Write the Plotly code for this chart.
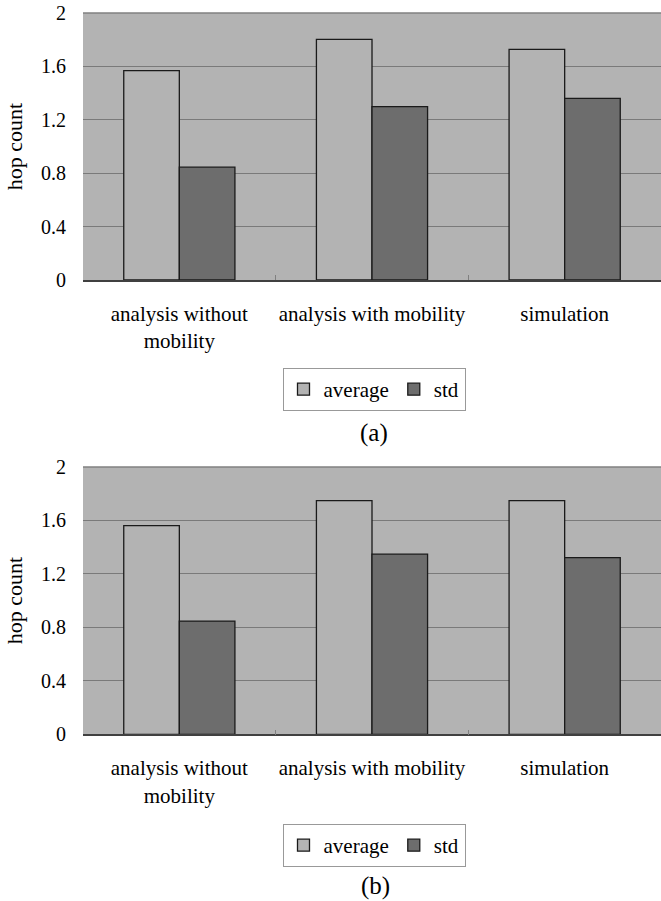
import plotly.graph_objects as go

# Hop-count statistics for the two scenarios (a) and (b)
categories = ["analysis without<br>mobility", "analysis with mobility", "simulation"]
avg_a = [1.568, 1.803, 1.728]
std_a = [0.845, 1.298, 1.361]
avg_b = [1.562, 1.749, 1.749]
std_b = [0.847, 1.348, 1.322]
y_ticks = [0, 0.4, 0.8, 1.2, 1.6, 2]
y_tick_text = ["0", "0.4", "0.8", "1.2", "1.6", "2"]

W, H = 661, 901
ML = 83  # left margin in pixels
FONT = "Liberation Serif, Times New Roman, serif"
BG = "#b3b3b3"
AVG_COLOR = "#b3b3b3"
STD_COLOR = "#6d6d6d"
OUTLINE = dict(color="#1a1a1a", width=1.3)


def px(x):
    """Convert a pixel column to paper x (paper spans the plot width)."""
    return (x - ML) / (W - ML)


def py(y):
    """Convert a pixel row (from the top) to paper y."""
    return 1 - y / H


fig = go.Figure()

for avg, std, xa, ya, leg in [
    (avg_a, std_a, "x", "y", "legend"),
    (avg_b, std_b, "x2", "y2", "legend2"),
]:
    fig.add_trace(go.Bar(x=categories, y=avg, name="average", xaxis=xa, yaxis=ya,
                         marker=dict(color=AVG_COLOR, line=OUTLINE), legend=leg))
    fig.add_trace(go.Bar(x=categories, y=std, name="std", xaxis=xa, yaxis=ya,
                         marker=dict(color=STD_COLOR, line=OUTLINE), legend=leg))

xaxis_style = dict(
    tickson="boundaries", ticks="inside", ticklen=5, tickcolor="#808080",
    showline=True, linecolor="#404040", linewidth=1.5,
    tickangle=0, ticklabelstandoff=14,
    tickfont=dict(family=FONT, size=21, color="#000"),
    showgrid=False, zeroline=False, domain=[0, 1], automargin=False,
)
yaxis_style = dict(
    range=[0, 2], tickvals=y_ticks, ticktext=y_tick_text,
    showgrid=True, gridcolor="#7a7a7a", gridwidth=1,
    zeroline=False, showline=False, ticks="",
    ticklabelstandoff=16, automargin=False,
    tickfont=dict(family=FONT, size=20, color="#000"),
    title=dict(text="hop count", font=dict(family=FONT, size=22, color="#000"), standoff=12),
)

legend_style = dict(
    orientation="h", xanchor="center", x=px(374), yanchor="top",
    bgcolor="#ffffff", bordercolor="#999999", borderwidth=1,
    font=dict(family=FONT, size=21, color="#000"),
    itemwidth=30, tracegroupgap=0,
)

fig.update_layout(
    width=W, height=H,
    margin=dict(l=ML, r=0, t=0, b=0, autoexpand=False),
    paper_bgcolor="white", plot_bgcolor=BG,
    barmode="group", bargap=0.423, bargroupgap=0,
    font=dict(family=FONT, size=20, color="#000"),
    xaxis=dict(**xaxis_style, anchor="y"),
    yaxis=dict(**yaxis_style, domain=[py(280), py(13)], anchor="x"),
    xaxis2=dict(**xaxis_style, anchor="y2"),
    yaxis2=dict(**yaxis_style, domain=[py(734.3), py(467)], anchor="x2"),
    legend=dict(**legend_style, y=py(368)),
    legend2=dict(**legend_style, y=py(824)),
    annotations=[
        dict(text="(a)", x=px(374), y=py(433), xref="paper", yref="paper",
             xanchor="center", yanchor="middle", showarrow=False,
             font=dict(family=FONT, size=25, color="#000")),
        dict(text="(b)", x=px(375), y=py(886), xref="paper", yref="paper",
             xanchor="center", yanchor="middle", showarrow=False,
             font=dict(family=FONT, size=25, color="#000")),
    ],
)

# Dark frame line along the top edge of each plot area
for xa, ya in [("x", "y"), ("x2", "y2")]:
    fig.add_shape(type="line", xref=xa + " domain", yref=ya + " domain",
                  x0=0, x1=1, y0=1, y1=1,
                  line=dict(color="#808080", width=1.5))

fig.write_html("out.html")
